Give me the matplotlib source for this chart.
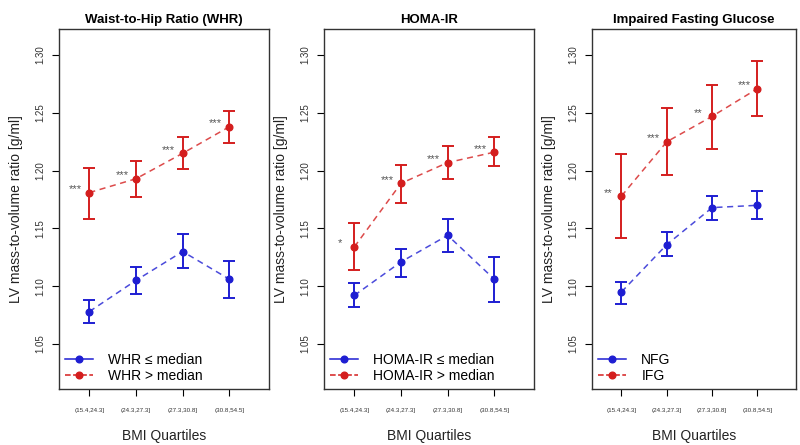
import numpy as np
import matplotlib.pyplot as plt

plt.rcParams['font.family'] = ['Liberation Sans', 'DejaVu Sans']

quartiles = ['(15.4,24.3]', '(24.3,27.3]', '(27.3,30.8]', '(30.8,54.5]']

titles = ['Waist-to-Hip Ratio (WHR)', 'HOMA-IR', 'Impaired Fasting Glucose']
low_labels = ['WHR \u2264 median', 'HOMA-IR \u2264 median', 'NFG']
high_labels = ['WHR > median', 'HOMA-IR > median', 'IFG']

# low group (blue): mean, lower CI, upper CI
whr_low = [1.078, 1.105, 1.130, 1.106]
whr_low_lo = [1.068, 1.093, 1.116, 1.090]
whr_low_hi = [1.088, 1.117, 1.145, 1.122]
homa_low = [1.092, 1.121, 1.144, 1.106]
homa_low_lo = [1.082, 1.108, 1.130, 1.086]
homa_low_hi = [1.103, 1.132, 1.158, 1.125]
nfg = [1.095, 1.136, 1.168, 1.170]
nfg_lo = [1.085, 1.126, 1.157, 1.158]
nfg_hi = [1.104, 1.147, 1.178, 1.182]

# high group (red)
whr_high = [1.181, 1.193, 1.215, 1.238]
whr_high_lo = [1.158, 1.177, 1.201, 1.224]
whr_high_hi = [1.202, 1.208, 1.229, 1.252]
homa_high = [1.134, 1.189, 1.207, 1.216]
homa_high_lo = [1.114, 1.172, 1.193, 1.204]
homa_high_hi = [1.155, 1.205, 1.221, 1.229]
ifg = [1.178, 1.225, 1.247, 1.271]
ifg_lo = [1.142, 1.196, 1.219, 1.247]
ifg_hi = [1.214, 1.254, 1.274, 1.295]

stars = [['***', '***', '***', '***'],
         ['*', '***', '***', '***'],
         ['**', '***', '**', '***']]

low = [(whr_low, whr_low_lo, whr_low_hi),
       (homa_low, homa_low_lo, homa_low_hi),
       (nfg, nfg_lo, nfg_hi)]
high = [(whr_high, whr_high_lo, whr_high_hi),
        (homa_high, homa_high_lo, homa_high_hi),
        (ifg, ifg_lo, ifg_hi)]

blue = '#1e1ed2'
red = '#d41e1e'
x = np.arange(1, 5)

fig = plt.figure(figsize=(8, 4.45), dpi=100)
lefts = [59 / 800, 324 / 800, 592 / 800]
widths = [210 / 800, 210 / 800, 204 / 800]
bottom = 1 - 389 / 445
height = (389 - 29) / 445

for k in range(3):
    ax = fig.add_axes([lefts[k], bottom, widths[k], height])
    for (m, lo, hi), col, lab, ls in [(low[k], blue, low_labels[k], '-'),
                                      (high[k], red, high_labels[k], '--')]:
        m = np.array(m)
        yerr = [m - np.array(lo), np.array(hi) - m]
        ax.errorbar(x, m, yerr=yerr, fmt='none', ecolor=col, elinewidth=1.4,
                    capsize=4, capthick=1.4)
        ax.plot(x, m, color=col, lw=1.1, ls=(0, (4, 3)), alpha=0.8)
        ax.plot(x, m, 'o', color=col, ms=4.8)
        ax.plot([], [], color=col, lw=1.1, ls=ls, marker='o', ms=4.8, label=lab)
    for i in range(4):
        ax.text(x[i] - 0.3, high[k][0][i] + 0.003, stars[k][i], ha='center',
                va='center', fontsize=8, color='#555555')
    ax.set_xlim(0.35, 4.85)
    ax.set_ylim(1.011, 1.3226)
    ax.set_yticks([1.05, 1.10, 1.15, 1.20, 1.25, 1.30])
    ax.set_yticklabels(['1.05', '1.10', '1.15', '1.20', '1.25', '1.30'],
                       rotation=90, va='center', fontsize=7, color='#333333')
    ax.set_xticks(x)
    ax.set_xticklabels(quartiles, fontsize=4.5, color='#333333')
    ax.tick_params(axis='y', length=5, width=0.8, pad=5)
    ax.tick_params(axis='x', length=5, width=0.8, pad=9)
    for s in ax.spines.values():
        s.set_linewidth(1.0)
        s.set_color('#333333')
    ax.set_title(titles[k], fontsize=9.5, fontweight='bold', pad=4)
    ax.set_xlabel('BMI Quartiles', fontsize=10, labelpad=11, color='#222222')
    ax.set_ylabel('LV mass-to-volume ratio [g/ml]', fontsize=10, labelpad=9,
                  color='#222222')
    ax.legend(loc='lower left', frameon=False, fontsize=10, handlelength=2.0,
              handletextpad=1.1, borderaxespad=0.15, borderpad=0.3,
              labelspacing=0.15)

fig.savefig('out.png', dpi=100)
